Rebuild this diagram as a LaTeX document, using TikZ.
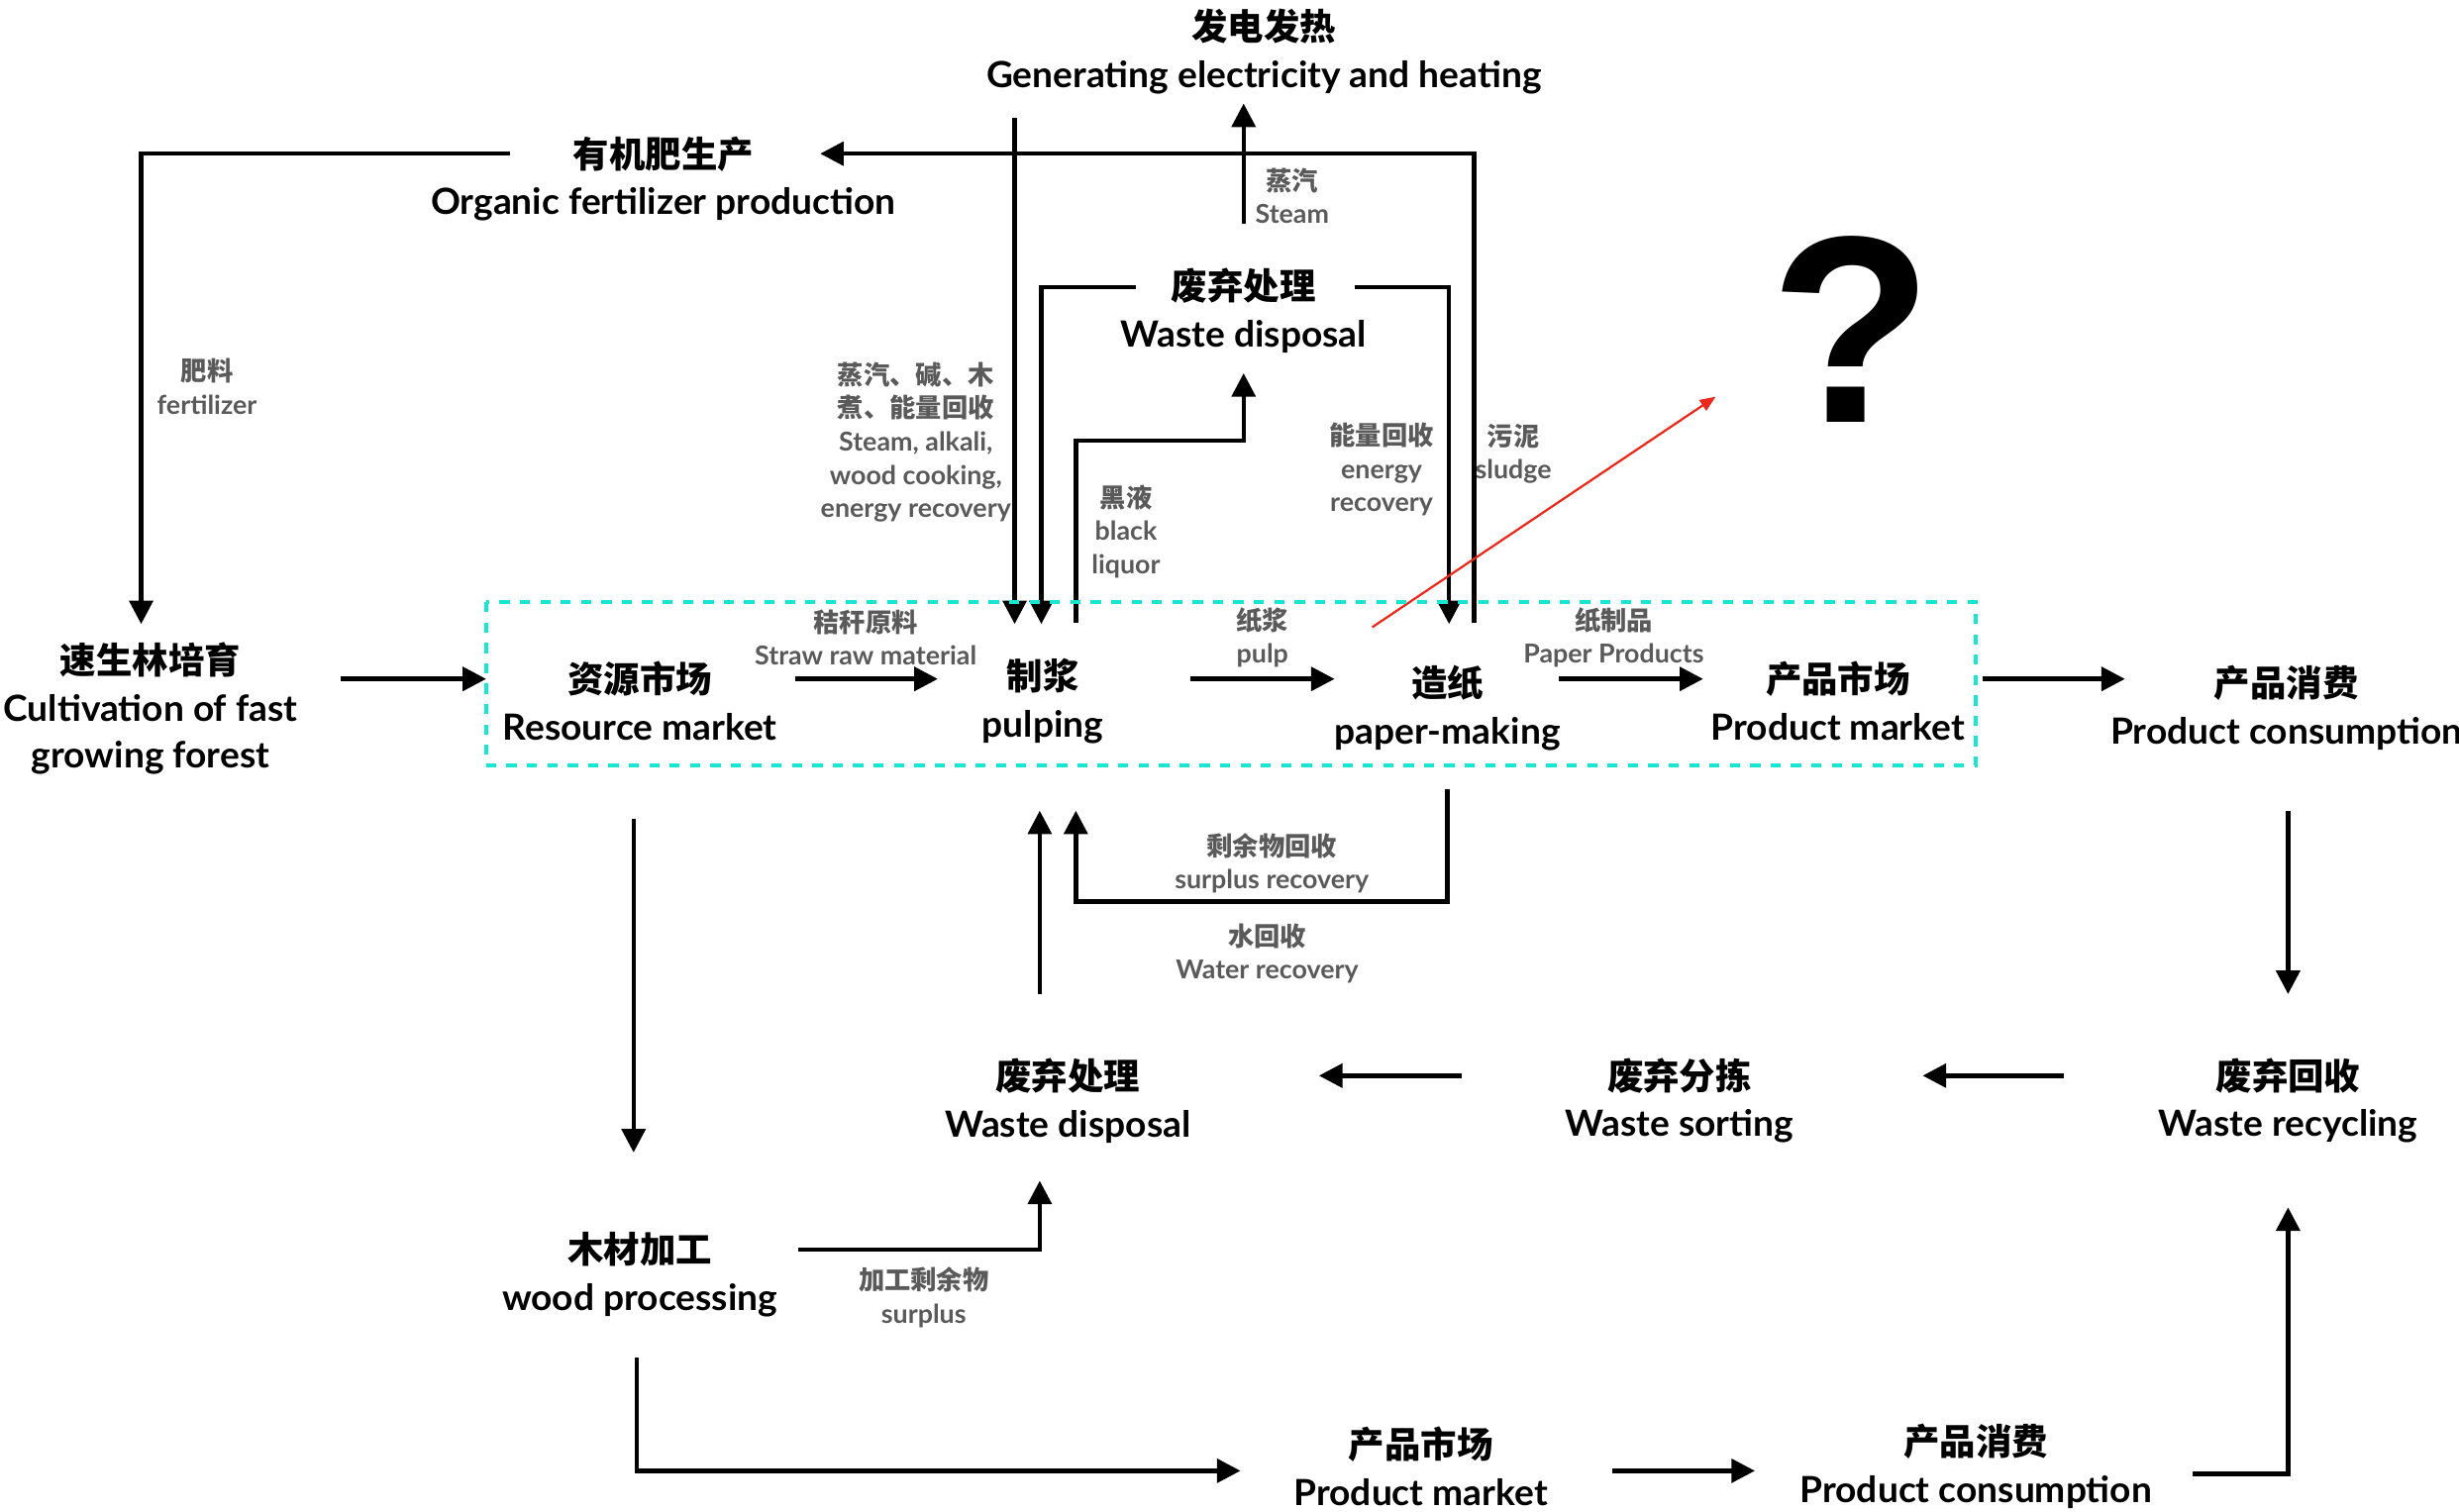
\documentclass[tikz,border=0pt]{standalone}
\usepackage{fontspec}
\usetikzlibrary{arrows.meta,calc}
\newfontfamily\cjk{Noto Sans CJK SC}
\newfontfamily\enf{Lato}[FakeStretch=1.02, BoldFont={Lato Bold}]
\newfontfamily\qf{Liberation Sans}
\definecolor{boxcyan}{RGB}{24,230,210}
\definecolor{lblgray}{RGB}{90,90,90}
\definecolor{redarr}{RGB}{235,40,25}
\newcommand\twol[2]{{\cjk #1}\\{\enf #2}}
\tikzset{
  mainnode/.style={align=center, inner sep=0pt, font=\fontsize{11.5}{15}\selectfont\bfseries},
  lblnode/.style={align=center, inner sep=0pt, text=lblgray, font=\fontsize{8.3}{10.6}\selectfont\bfseries},
  arr/.style={line width=1.4pt, -{Triangle[length=7.5pt,width=7.5pt]}},
  plainln/.style={line width=1.4pt},
  boxline/.style={draw=boxcyan, line width=1.2pt, dash pattern=on 3.25pt off 3.25pt},
  redline/.style={draw=redarr, line width=0.7pt, -{Triangle[length=5pt,width=4pt]}}
}
\begin{document}
\begin{tikzpicture}[x=0.5pt,y=-0.5pt]
\path[use as bounding box, fill=white] (0,0) rectangle (1568,964);
% main nodes
\node[mainnode] (gen) at (806,33) {\twol{发电发热}{Generating electricity and heating}};
\node[mainnode] (org) at (423,114) {\twol{有机肥生产}{Organic fertilizer production}};
\node[mainnode] (wdt) at (793,198) {\twol{废弃处理}{Waste disposal}};
\node[inner sep=0pt, font=\qf\bfseries\fontsize{85}{85}\selectfont] (q) at (1181,210) {?};
\node[mainnode] (cult) at (96,452) {{\cjk 速生林培育}\\{\enf Cultivation of fast}\\{\enf growing forest}};
\node[mainnode] (res) at (408,447) {\twol{资源市场}{Resource market}};
\node[mainnode] (pulp) at (665,447) {\twol{制浆}{pulping}};
\node[mainnode] (paper) at (923,451.5) {\twol{造纸}{paper-making}};
\node[mainnode] (pmk) at (1172,447) {\twol{产品市场}{Product market}};
\node[mainnode] (pcon) at (1458,451.5) {\twol{产品消费}{Product consumption}};
\node[mainnode] (wdm) at (681,702) {\twol{废弃处理}{Waste disposal}};
\node[mainnode] (wsort) at (1071,702) {\twol{废弃分拣}{Waste sorting}};
\node[mainnode] (wrec) at (1459,702) {\twol{废弃回收}{Waste recycling}};
\node[mainnode] (wood) at (408,813) {\twol{木材加工}{wood processing}};
\node[mainnode] (pmk2) at (906,935) {\twol{产品市场}{Product market}};
\node[mainnode] (pcon2) at (1260,935) {\twol{产品消费}{Product consumption}};
% labels
\node[lblnode] (lfert) at (132,246.5) {\twol{肥料}{fertilizer}};
\node[lblnode] (lsteamalk) at (584,282) {{\cjk 蒸汽、碱、木}\\{\cjk 煮、能量回收}\\{\enf Steam, alkali,}\\{\enf wood cooking,}\\{\enf energy recovery}};
\node[lblnode] (lsteam) at (824,125) {\twol{蒸汽}{Steam}};
\node[lblnode] (lblack) at (718,339) {{\cjk 黑液}\\{\enf black}\\{\enf liquor}};
\node[lblnode] (lenrec) at (881,299.5) {{\cjk 能量回收}\\{\enf energy}\\{\enf recovery}};
\node[lblnode] (lsludge) at (965,289.5) {\twol{污泥}{sludge}};
\node[lblnode] (lstraw) at (552,406.5) {\twol{秸秆原料}{Straw raw material}};
\node[lblnode] (lpulp) at (805,406.5) {\twol{纸浆}{pulp}};
\node[lblnode] (lpaperp) at (1029,406.5) {\twol{纸制品}{Paper Products}};
\node[lblnode] (lsurrec) at (811,550.5) {\twol{剩余物回收}{surplus recovery}};
\node[lblnode] (lwater) at (808,608) {\twol{水回收}{Water recovery}};
\node[lblnode] (lsurplus) at (589,827.5) {\twol{加工剩余物}{surplus}};
% connectors
\draw[arr] ($(org)+(-98,-16)$) -| ($(cult)+(-6,-54)$);
\draw[arr] ($(cult)+(121,-19)$) -- ($(res)+(-98,-14)$);
\draw[arr] ($(res)+(99,-14)$) -- ($(pulp)+(-67,-14)$);
\draw[arr] ($(pulp)+(94,-14)$) -- ($(paper)+(-72,-18.5)$);
\draw[arr] ($(paper)+(71,-18.5)$) -- ($(pmk)+(-86,-14)$);
\draw[arr] ($(pmk)+(92,-14)$) -- ($(pcon)+(-103,-18.5)$);
\draw[arr] ($(pcon)+(1,65.5)$) -- ($(wrec)+(0,-68)$);
\draw[arr] ($(wrec)+(-143,-16)$) -- ($(wsort)+(155,-16)$);
\draw[arr] ($(wsort)+(-139,-16)$) -- ($(wdm)+(160,-16)$);
\draw[arr] ($(res)+(-4,75)$) -- ($(wood)+(-4,-78)$);
\draw[arr] ($(wood)+(101,-16)$) -| ($(wdm)+(-18,51)$);
\draw[arr] ($(wood)+(-2,53)$) |- ($(pmk2)+(-115,3)$);
\draw[arr] ($(pmk2)+(122,3)$) -- ($(pcon2)+(-141,3)$);
\draw[arr] ($(pcon2)+(138,5)$) -| ($(wrec)+(0,68)$);
\draw[arr] ($(wdm)+(-18,-68)$) -- ($(pulp)+(-2,70)$);
\draw[arr] ($(paper)+(0,51.5)$) -- ($(paper)+(0,123.5)$) -| ($(pulp)+(21,70)$);
\draw[arr] ($(gen)+(-159,42)$) -- ($(pulp)+(-18,-49)$);
\draw[arr] ($(wdt)+(-69,-15)$) -| ($(pulp)+(-1,-49)$);
\draw[arr] ($(wdt)+(71,-15)$) -| ($(paper)+(1,-53.5)$);
\draw[arr] ($(pulp)+(21,-50)$) |- ($(wdt)+(0,83)$) -- ($(wdt)+(0,40)$);
\draw[arr] ($(paper)+(17,-54.5)$) |- ($(org)+(100,-16)$);
\draw[arr] ($(wdt)+(0,-55)$) -- ($(gen)+(-13,33)$);
\draw[redline] ($(paper)+(-48,-51.5)$) -- ($(q)+(-87,43)$);
% dashed group box
\draw[boxline] ($(res)+(-98,-63)$) rectangle ($(pmk)+(88,41)$);
\end{tikzpicture}
\end{document}
